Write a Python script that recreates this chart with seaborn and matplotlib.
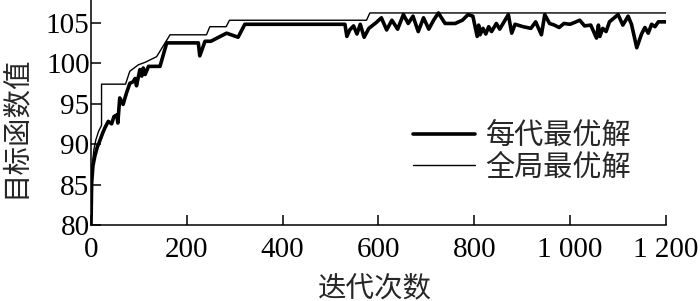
import matplotlib
matplotlib.use("Agg")
import matplotlib.pyplot as plt
import seaborn as sns
import pandas as pd

# 每代最优解 (best of each generation)
gen_x = [0, 1.4, 4, 8, 13, 19, 24, 29, 36, 43, 48, 54, 56, 60, 67, 74, 81, 88, 92, 95,
         102, 106, 109, 113, 120, 130, 144, 158, 224, 227, 238, 250, 283, 307, 321, 530,
         534, 540, 548, 555, 562, 570, 580, 595, 606, 617, 628, 640, 652, 662, 672, 683,
         694, 705, 715, 725, 739, 760, 775, 787, 797, 806, 809, 812, 818, 824, 830, 836,
         846, 853, 871, 878, 885, 902, 918, 928, 940, 947, 957, 967, 977, 987, 1000, 1020,
         1030, 1043, 1055, 1059, 1062, 1068, 1075, 1082, 1100, 1110, 1121, 1128, 1139,
         1149, 1156, 1163, 1170, 1177, 1184, 1200]
gen_y = [80.0, 85.2, 87.3, 88.5, 89.6, 90.5, 91.3, 92.0, 92.8, 92.5, 93.4, 93.6, 92.6,
         95.7, 94.9, 96.3, 97.5, 97.7, 98.1, 97.2, 99.2, 98.4, 99.4, 98.6, 99.6, 99.6,
         99.6, 102.5, 102.5, 100.9, 102.7, 102.7, 103.7, 103.2, 104.8, 104.8, 103.3,
         104.1, 104.6, 103.6, 104.8, 103.2, 104.3, 105.0, 105.6, 104.1, 105.3, 104.2,
         106.0, 104.9, 105.8, 103.9, 105.6, 104.2, 105.3, 106.2, 104.9, 104.9, 105.3,
         106.0, 105.8, 103.3, 104.7, 103.5, 104.3, 103.6, 104.5, 103.9, 104.9, 104.2,
         106.0, 103.7, 104.8, 104.5, 104.3, 105.1, 103.5, 106.0, 104.9, 104.7, 104.4,
         104.9, 104.8, 105.3, 104.6, 104.7, 103.1, 104.7, 103.3, 104.3, 103.9, 105.1,
         106.0, 104.7, 105.8, 104.8, 101.9, 103.6, 104.4, 103.7, 104.8, 104.5, 105.1,
         105.1]

# 全局最优解 (global best so far)
best_x = [0, 1, 3, 6, 10, 16, 22, 22, 72, 81, 99, 113, 137, 165, 241, 248, 282, 289,
          575, 582, 1200]
best_y = [80.0, 84.5, 87.5, 89.3, 90.5, 91.6, 92.3, 97.4, 97.4, 99.0, 99.8, 100.1,
          100.8, 103.5, 103.5, 104.5, 104.5, 105.3, 105.3, 106.2, 106.2]

xticks = [0, 200, 400, 600, 800, 1000, 1200]
xtick_labels = ["0", "200", "400", "600", "800", "1 000", "1 200"]
yticks = [80, 85, 90, 95, 100, 105]

df_gen = pd.DataFrame({"x": gen_x, "y": gen_y})
df_best = pd.DataFrame({"x": best_x, "y": best_y})

sns.set_style("ticks")
plt.rcParams["font.family"] = ["Liberation Serif", "Noto Sans CJK SC"]

fig = plt.figure(figsize=(7, 3.01), dpi=100)
ax = fig.add_axes([0.13, 0.2525, 0.8214, 0.7475])

sns.lineplot(data=df_gen, x="x", y="y", color="black", linewidth=2.6,
             estimator=None, sort=False, label="每代最优解", ax=ax)
sns.lineplot(data=df_best, x="x", y="y", color="black", linewidth=1.0,
             estimator=None, sort=False, label="全局最优解", ax=ax)

ax.set_xlim(0, 1200)
ax.set_ylim(80, 107.8)
ax.set_xticks(xticks)
ax.set_xticklabels(xtick_labels)
ax.set_yticks(yticks)
ax.tick_params(direction="in", length=7, width=1.1, labelsize=21, colors="black")
ax.tick_params(axis="y", pad=1)
ax.tick_params(axis="x", pad=9)
for s in ["top", "right"]:
    ax.spines[s].set_visible(False)
for s in ["left", "bottom"]:
    ax.spines[s].set_linewidth(1.1)
    ax.spines[s].set_color("black")

ax.set_xlabel("迭代次数", fontsize=20.5)
ax.set_ylabel("目标函数值", fontsize=20.5)
ax.xaxis.set_label_coords(0.494, -0.225)
ax.yaxis.set_label_coords(-0.108, 0.435)

ax.legend(loc="center left", bbox_to_anchor=(0.56, 0.324), frameon=False,
          fontsize=21, handlelength=2.14, handletextpad=0.35, labelspacing=0.15,
          borderpad=0, borderaxespad=0)

fig.savefig("out.png", dpi=100)
